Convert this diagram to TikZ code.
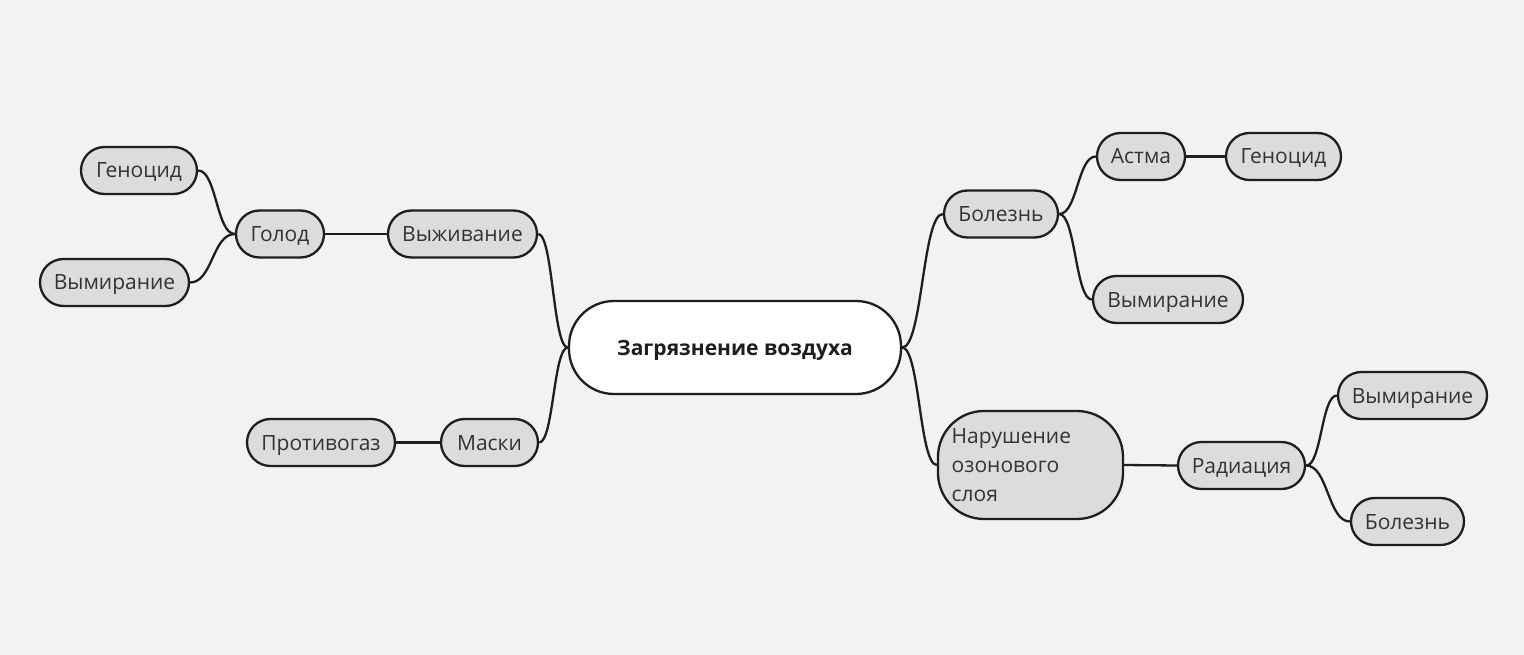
\documentclass[tikz,border=0pt]{standalone}
\usepackage{fontspec}
\setmainfont{Open Sans}
\usetikzlibrary{calc}
\definecolor{bg}{HTML}{F2F2F2}
\definecolor{nodefill}{HTML}{DCDCDC}
\definecolor{ink}{HTML}{1E1E1E}
\definecolor{txt}{HTML}{333333}
\tikzset{
  leaf/.style={draw=ink, line width=2.3pt, fill=nodefill, rounded corners=23.5pt,
    minimum height=47pt, inner sep=0pt, text=txt, text height=15pt, text depth=0pt,
    font=\fontsize{21}{25}\selectfont},
  root/.style={draw=ink, line width=2.3pt, fill=white, rounded corners=45pt,
    minimum height=93pt, minimum width=332pt, inner sep=0pt, text=ink,
    text height=15pt, text depth=0pt,
    font=\fontsize{21}{25}\selectfont\bfseries},
  link/.style={draw=ink, line width=2.3pt}
}
\newcommand\joinnodes[2]{%
  \draw[link] let \p1=(#1), \p2=(#2) in (\p1) .. controls ({(\x1+\x2)/2},\y1) and ({(\x1+\x2)/2},\y2) .. (\p2);}
\begin{document}
\begin{tikzpicture}[x=1pt,y=-1pt]
\fill[bg] (0,0) rectangle (1524,655);
\useasboundingbox (0,0) rectangle (1524,655);
% root
\node[root] (root) at (735,347.5) {Загрязнение воздуха};
% left
\node[leaf, minimum width=149pt] (vyzh) at (462.5,234) {Выживание};
\node[leaf, minimum width=88pt] (golod) at (280,234) {Голод};
\node[leaf, minimum width=116pt] (genL) at (139,170.5) {Геноцид};
\node[leaf, minimum width=149pt] (vymL) at (114.5,282.5) {Вымирание};
\node[leaf, minimum width=97pt] (maski) at (489.5,442.5) {Маски};
\node[leaf, minimum width=148pt] (protiv) at (321,442.5) {Противогаз};
% right
\node[leaf, minimum width=114pt] (bolR) at (1001,214) {Болезнь};
\node[leaf, minimum width=88pt] (astma) at (1141,156.5) {Астма};
\node[leaf, minimum width=115pt] (genR) at (1283.5,156.5) {Геноцид};
\node[leaf, minimum width=150pt] (vymR) at (1168,299.5) {Вымирание};
\node[leaf, minimum width=185pt, minimum height=108pt, rounded corners=46pt] (ozon) at (1030.5,465) {};
\node[anchor=base west, align=left, text=txt, inner sep=0pt,
  font=\fontsize{21}{29.2}\selectfont] (ozontext) at (951.5,501.5) {Нарушение\\озонового\\слоя};
\node[leaf, minimum width=127pt] (rad) at (1241.5,465.5) {Радиация};
\node[leaf, minimum width=149pt] (vymR2) at (1412.5,395.5) {Вымирание};
\node[leaf, minimum width=113pt] (bolR2) at (1407.5,521.5) {Болезнь};
% connectors
\joinnodes{root.west}{vyzh.east}
\joinnodes{root.west}{maski.east}
\joinnodes{vyzh.west}{golod.east}
\joinnodes{golod.west}{genL.east}
\joinnodes{golod.west}{vymL.east}
\joinnodes{maski.west}{protiv.east}
\joinnodes{root.east}{bolR.west}
\joinnodes{root.east}{ozon.west}
\joinnodes{bolR.east}{astma.west}
\joinnodes{bolR.east}{vymR.west}
\joinnodes{astma.east}{genR.west}
\joinnodes{ozon.east}{rad.west}
\joinnodes{rad.east}{vymR2.west}
\joinnodes{rad.east}{bolR2.west}
\end{tikzpicture}
\end{document}
